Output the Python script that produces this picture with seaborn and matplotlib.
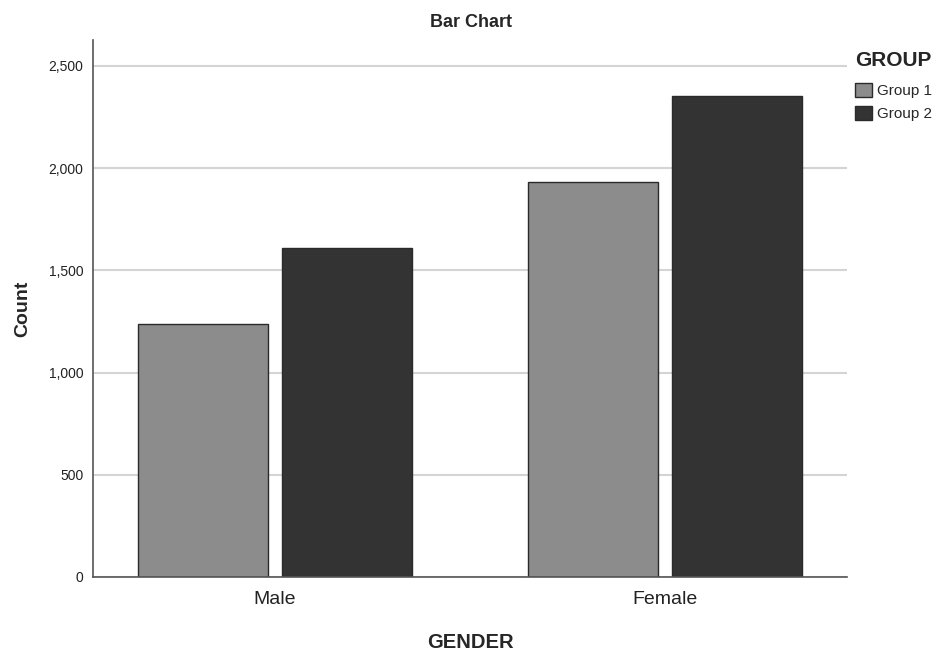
import pandas as pd
import seaborn as sns
import matplotlib.pyplot as plt
from matplotlib.ticker import FuncFormatter
from matplotlib.patches import Patch

genders = ["Male", "Female"]
groups = ["Group 1", "Group 2"]
group1_counts = [1238, 1930]
group2_counts = [1611, 2353]

df = pd.DataFrame({
    "GENDER": genders * 2,
    "GROUP": [groups[0]] * 2 + [groups[1]] * 2,
    "Count": group1_counts + group2_counts,
})

palette = {"Group 1": "#8c8c8c", "Group 2": "#333333"}

sns.set_style("white")
plt.rcParams['font.family'] = ['Liberation Sans', 'DejaVu Sans']

fig = plt.figure(figsize=(9.41, 6.52), dpi=100)
ax = fig.add_axes([93 / 941, 75 / 652, 754 / 941, 537 / 652])

sns.barplot(data=df, x="GENDER", y="Count", hue="GROUP", order=genders,
            hue_order=groups, palette=palette, width=0.738, gap=0.0976,
            edgecolor="#2a2a2a", linewidth=1, saturation=1, legend=False, ax=ax)

ax.set_xlim(-0.467, 1.467)
ax.set_ylim(0, 2627)
ax.set_yticks([0, 500, 1000, 1500, 2000, 2500])
ax.yaxis.set_major_formatter(FuncFormatter(lambda v, p: f"{int(v):,}"))
ax.yaxis.grid(True, color="#d4d4d4", linewidth=1.5)
ax.set_axisbelow(True)
for s in ["top", "right"]:
    ax.spines[s].set_visible(False)
for s in ["left", "bottom"]:
    ax.spines[s].set_color("#555555")
    ax.spines[s].set_linewidth(1.2)
ax.tick_params(axis="y", length=0, labelsize=10, pad=7, labelcolor="#222222")
ax.tick_params(axis="x", length=0, labelsize=14, pad=10, labelcolor="#222222")

ax.set_xlabel("GENDER", fontsize=14.5, fontweight="bold", labelpad=18)
ax.set_ylabel("Count", fontsize=14, fontweight="bold", labelpad=12)
fig.suptitle("Bar Chart", x=0.5, y=0.978, fontsize=13, fontweight="bold")

handles = [Patch(facecolor=palette[g], edgecolor="#2a2a2a", label=g) for g in groups]
leg = ax.legend(handles=handles, title="GROUP", loc="upper left",
                bbox_to_anchor=(1.0, 0.995), frameon=False, fontsize=11,
                title_fontproperties={"weight": "bold", "size": 15},
                handlelength=1.1, handleheight=1.1, handletextpad=0.3,
                labelspacing=0.5, borderaxespad=0.15)
leg._legend_box.align = "left"
leg._legend_box.sep = 9

fig.savefig("out.png", dpi=100)
